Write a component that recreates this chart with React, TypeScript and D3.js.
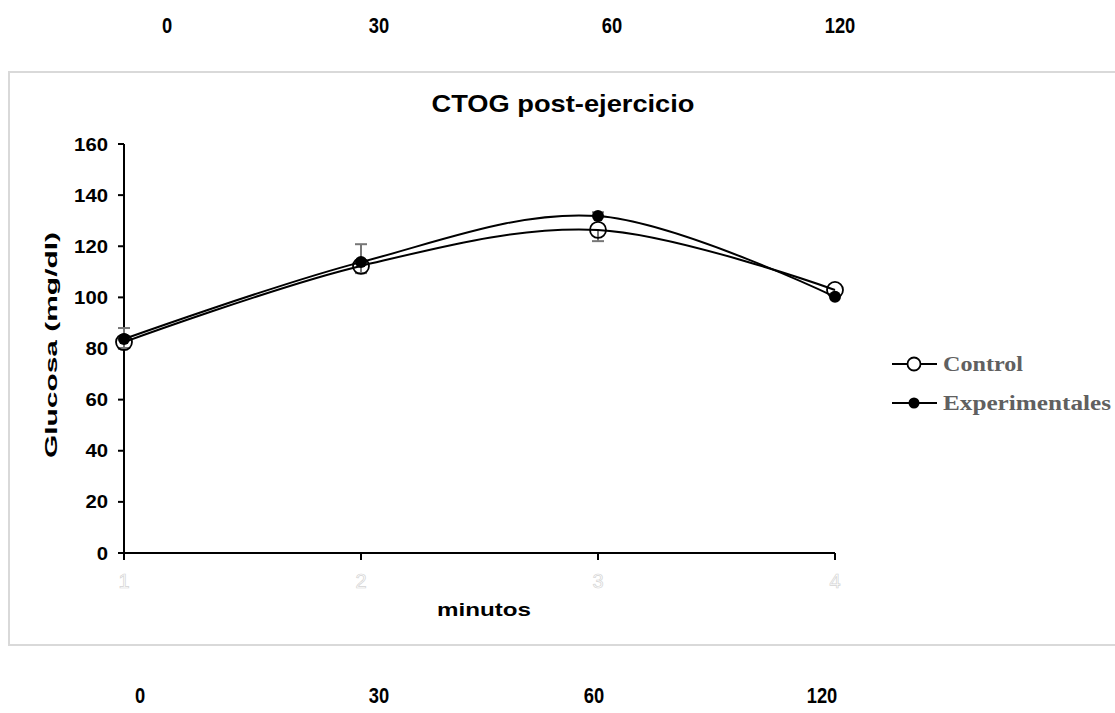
import React from "react";
import * as d3 from "d3";

const categories = [1, 2, 3, 4];
const minuteLabels = ["0", "30", "60", "120"];
const controlValues = [82.5, 112.3, 126.4, 102.9];
const controlErrors = [2.3, 2.8, 4.4, 0];
const expValues = [83.7, 113.8, 131.8, 100.2];
const expErrors = [4.3, 7.0, 1.5, 0];
const yTicks = [0, 20, 40, 60, 80, 100, 120, 140, 160];
const topLabelX = [167, 379, 612, 840];
const bottomLabelX = [140, 379, 594, 822];

export default function App() {
  const x = d3.scaleLinear().domain([1, 4]).range([124, 835]);
  const y = d3.scaleLinear().domain([0, 160]).range([553, 144]);
  const line = d3
    .line<number>()
    .x((_, i) => x(categories[i]))
    .y((d) => y(d))
    .curve(d3.curveCardinal.tension(0));

  const arial = "Liberation Sans, Arial, sans-serif";
  const times = "Liberation Serif, Times New Roman, serif";

  return (
    <svg
      width={1115}
      height={713}
      style={{ position: "absolute", left: 0, top: 0, background: "#fff" }}
    >
      {minuteLabels.map((l, i) => (
        <text key={"t" + i} x={topLabelX[i]} y={33} textAnchor="middle" fontFamily={arial} fontWeight="bold" fontSize={22}
          textLength={l.length * 10.2} lengthAdjust="spacingAndGlyphs">
          {l}
        </text>
      ))}
      {minuteLabels.map((l, i) => (
        <text key={"b" + i} x={bottomLabelX[i]} y={703} textAnchor="middle" fontFamily={arial} fontWeight="bold" fontSize={22}
          textLength={l.length * 10.2} lengthAdjust="spacingAndGlyphs">
          {l}
        </text>
      ))}
      <rect x={9} y={72} width={1115} height={573} fill="#fff" stroke="#d9d9d9" strokeWidth={2} />
      <text x={563} y={112} textAnchor="middle" fontFamily={arial} fontWeight="bold" fontSize={24}
        textLength={263} lengthAdjust="spacingAndGlyphs">
        CTOG post-ejercicio
      </text>
      {/* y axis */}
      <line x1={124} x2={124} y1={y(160)} y2={y(0)} stroke="#000" strokeWidth={2} />
      {yTicks.map((t) => (
        <g key={"yt" + t}>
          <line x1={118} x2={124} y1={y(t)} y2={y(t)} stroke="#000" strokeWidth={2} />
          <text x={108} y={y(t) + 6.5} textAnchor="end" fontFamily={arial} fontWeight="bold" fontSize={18}
            textLength={String(t).length * 11.3} lengthAdjust="spacingAndGlyphs">
            {t}
          </text>
        </g>
      ))}
      {/* x axis */}
      <line x1={x(1)} x2={x(4)} y1={y(0)} y2={y(0)} stroke="#000" strokeWidth={2} />
      {categories.map((c) => (
        <g key={"xt" + c}>
          <line x1={x(c)} x2={x(c)} y1={y(0)} y2={y(0) + 7} stroke="#000" strokeWidth={2} />
          <text x={x(c)} y={588} textAnchor="middle" fontFamily={arial} fontSize={20} fill="#fff" stroke="#d4d4d4" strokeWidth={0.7}>
            {c}
          </text>
        </g>
      ))}
      <text x={484} y={616} textAnchor="middle" fontFamily={arial} fontWeight="bold" fontSize={19}
        textLength={94} lengthAdjust="spacingAndGlyphs">
        minutos
      </text>
      <text
        transform={`translate(57, 345) rotate(-90)`}
        textAnchor="middle"
        fontFamily={arial}
        fontWeight="bold"
        fontSize={17}
        textLength={226}
        lengthAdjust="spacingAndGlyphs"
      >
        Glucosa (mg/dl)
      </text>
      {/* error bars */}
      {categories.map((c, i) =>
        expErrors[i] > 0 ? (
          <g key={"ee" + c} stroke="#777" strokeWidth={2}>
            <line x1={x(c)} x2={x(c)} y1={y(expValues[i])} y2={y(expValues[i] + expErrors[i])} />
            <line x1={x(c) - 6} x2={x(c) + 6} y1={y(expValues[i] + expErrors[i])} y2={y(expValues[i] + expErrors[i])} />
          </g>
        ) : null
      )}
      {categories.map((c, i) =>
        controlErrors[i] > 0 ? (
          <g key={"ce" + c} stroke="#777" strokeWidth={2}>
            <line x1={x(c)} x2={x(c)} y1={y(controlValues[i])} y2={y(controlValues[i] - controlErrors[i])} />
            <line x1={x(c) - 6} x2={x(c) + 6} y1={y(controlValues[i] - controlErrors[i])} y2={y(controlValues[i] - controlErrors[i])} />
          </g>
        ) : null
      )}
      {/* lines */}
      <path d={line(controlValues) || ""} fill="none" stroke="#000" strokeWidth={2} />
      <path d={line(expValues) || ""} fill="none" stroke="#000" strokeWidth={2} />
      {/* markers */}
      {categories.map((c, i) => (
        <circle key={"cm" + c} cx={x(c)} cy={y(controlValues[i])} r={8} fill="none" stroke="#000" strokeWidth={1.8} />
      ))}
      {categories.map((c, i) => (
        <circle key={"em" + c} cx={x(c)} cy={y(expValues[i])} r={6} fill="#000" />
      ))}
      {/* legend */}
      <g>
        <line x1={892} x2={937} y1={364} y2={364} stroke="#000" strokeWidth={2} />
        <circle cx={914} cy={364} r={6.5} fill="#fff" stroke="#000" strokeWidth={1.8} />
        <text x={943} y={371} fontFamily={times} fontWeight="bold" fontSize={20} fill="#606060"
          textLength={80} lengthAdjust="spacingAndGlyphs">
          Control
        </text>
        <line x1={892} x2={937} y1={403} y2={403} stroke="#000" strokeWidth={2} />
        <circle cx={914} cy={403} r={5.5} fill="#000" />
        <text x={943} y={410} fontFamily={times} fontWeight="bold" fontSize={20} fill="#606060"
          textLength={168} lengthAdjust="spacingAndGlyphs">
          Experimentales
        </text>
      </g>
    </svg>
  );
}
